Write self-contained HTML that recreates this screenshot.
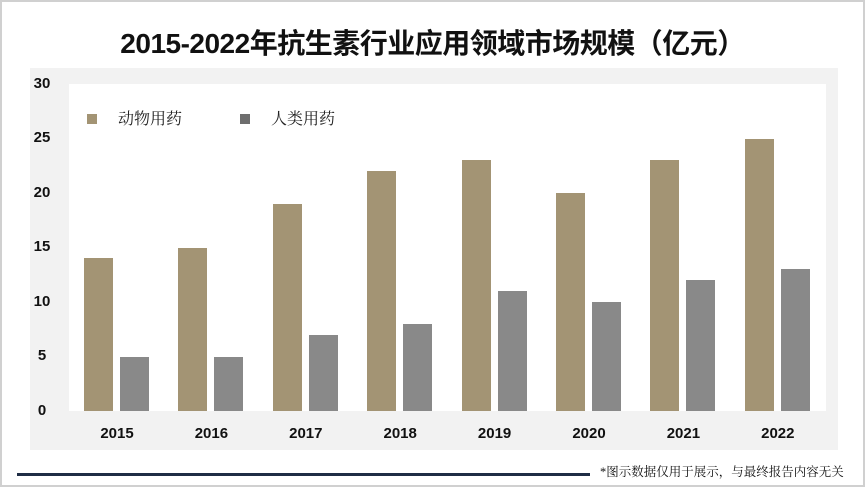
<!DOCTYPE html>
<html><head><meta charset="utf-8"><style>
body{margin:0;background:#fff}
#c{position:relative;width:865px;height:487px;overflow:hidden;background:#fff;font-family:"Liberation Sans","Noto Sans CJK SC",sans-serif}
.bd{position:absolute;left:0;top:0;width:861px;height:483px;border:2px solid #d0d0d0}
.t{position:absolute;left:0;width:865px;top:22px;text-align:center;font-size:28px;font-weight:bold;color:#111;letter-spacing:-0.5px}
.panel{position:absolute;left:30px;top:68px;width:808px;height:382px;background:#f2f2f2}
.plot{position:absolute;left:69px;top:84px;width:757px;height:327px;background:#fff}
.yl{position:absolute;left:28px;width:28px;text-align:center;font-size:15px;font-weight:bold;color:#111}
.xl{position:absolute;top:425px;width:60px;text-align:center;font-size:15px;font-weight:bold;color:#111}
.b{position:absolute;width:29px}
.lg{position:absolute;top:106px;font-size:16px;color:#222;font-family:"Liberation Serif","Noto Serif CJK SC",serif}
.sq{position:absolute;width:10px;height:10px;top:114px}
</style></head><body><div id="c">
<div class="bd"></div>
<div class="t">2015-2022年抗生素行业应用领域市场规模（亿元）</div>
<div class="panel"></div><div class="plot"></div>
<div class="yl" style="top:75px">30</div>
<div class="yl" style="top:129px">25</div>
<div class="yl" style="top:184px">20</div>
<div class="yl" style="top:238px">15</div>
<div class="yl" style="top:293px">10</div>
<div class="yl" style="top:347px">5</div>
<div class="yl" style="top:402px">0</div>
<div class="sq" style="left:87px;background:#a39474"></div><div class="lg" style="left:118px">动物用药</div>
<div class="sq" style="left:240px;background:#6e6e6e"></div><div class="lg" style="left:271px">人类用药</div>
<div id="bars"></div>
<div style="position:absolute;left:17px;top:473px;width:573px;height:3px;background:#1f2d45"></div>
<div style="position:absolute;left:600px;top:462px;font-size:12.5px;color:#111;font-family:'Liberation Serif','Noto Serif CJK SC',serif">*图示数据仅用于展示，与最终报告内容无关</div>
</div>
<script>
var a=[14,15,19,22,23,20,23,25],h=[5,5,7,8,11,10,12,13],y=["2015","2016","2017","2018","2019","2020","2021","2022"],s="";
for(var i=0;i<8;i++){var x=84+i*94.4;
s+='<div class="b" style="left:'+x+'px;top:'+(411-a[i]*10.9)+'px;height:'+(a[i]*10.9)+'px;background:#a39474"></div>';
s+='<div class="b" style="left:'+(x+36)+'px;top:'+(411-h[i]*10.9)+'px;height:'+(h[i]*10.9)+'px;background:#898989"></div>';
s+='<div class="xl" style="left:'+(x+3)+'px">'+y[i]+'</div>';}
document.getElementById("bars").innerHTML=s;
</script>
</body></html>
